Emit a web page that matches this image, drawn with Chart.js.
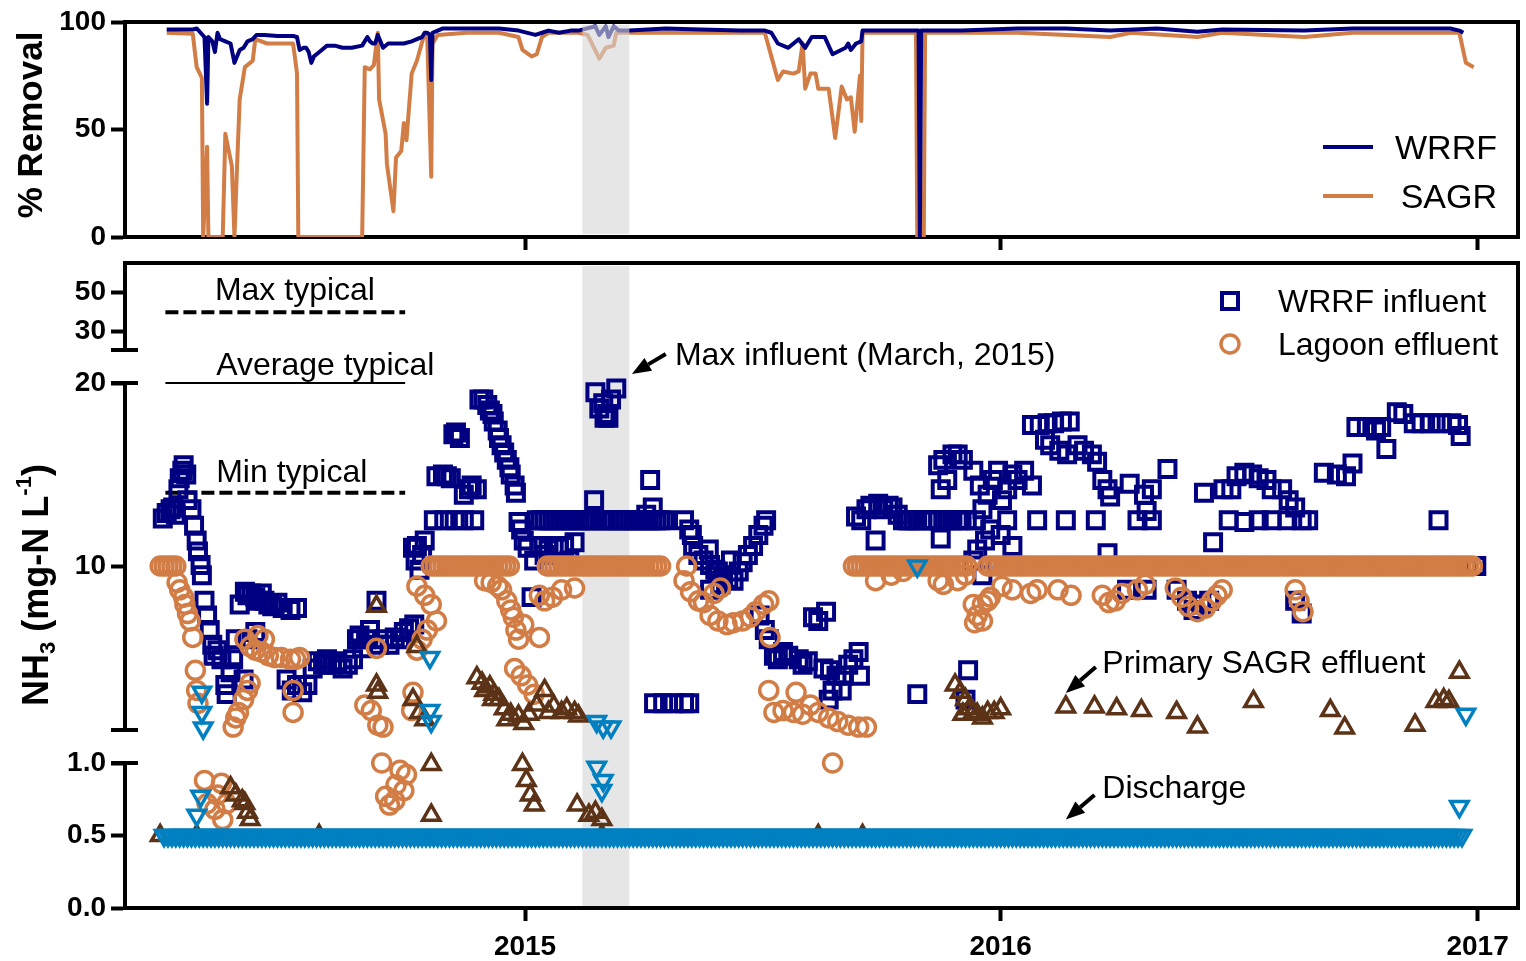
<!DOCTYPE html>
<html>
<head>
<meta charset="utf-8">
<script src="https://cdn.jsdelivr.net/npm/chart.js@4.4.1/dist/chart.umd.min.js"></script>
<style>
html, body { margin: 0; padding: 0; background: #fff; }
#wrap { position: relative; width: 1526px; height: 961px; }
#wrap canvas { position: absolute; left: 0; top: 0; width: 1526px; height: 961px; }
</style>
</head>
<body>
<div id="wrap">
  <canvas id="lowerChart" width="1526" height="961"></canvas>
  <canvas id="middleChart" width="1526" height="961"></canvas>
  <canvas id="upperChart" width="1526" height="961"></canvas>
  <canvas id="removalChart" width="1526" height="961"></canvas>
</div>
<script>
// x values are days counted from 1 Jan 2014
const dayMin = 58, dayMax = 1127;
const yearTickDays = [365, 730, 1096];
const yearTickLabels = ['2015', '2016', '2017'];
const highlightDays = [409, 445];

const removalTicks = [0, 50, 100];
const upperTicks = [30, 50];
const middleTicks = [10, 20];
const lowerTicks = [0, 0.5, 1];

const typicalDays = [89, 273];
const typicalMax = [40, 40];
const typicalAvg = [20, 20];
const typicalMin = [14, 14];

// % removal, [day, percent]
const wrrfRemoval = [[90,96.5],[100,96.5],[110,96.5],[113,97],[116,95],[119,93],[121,62],[122,93],[125,91],[127,86],[129,95],[131,92],[135,91],[139,90],[142,81],[146,87],[149,88],[152,91],[156,92],[159,94],[165,94],[175,93.5],[187,93.5],[190,93],[192,87],[195,88],[197,88],[199,86],[201,81],[203,84],[205,85],[209,87],[213,89],[219,89],[225,88],[232,88],[240,89],[244,93],[246,91],[248,90],[250,90],[252,94],[254,91],[256,88],[260,90],[266,90],[272,90],[278,91],[282,92],[286,93],[288,95],[290,95],[292,94],[293,73],[294,95],[298,96],[302,97],[320,97],[345,97],[360,96],[373,94],[378,95],[383,96],[391,95],[400,96],[406,96],[419,98],[422,94],[427,98],[429,93],[433,98],[437,96],[445,96],[473,97],[500,96.5],[530,96],[549,96],[554,95],[559,90],[567,88],[575,92],[580,88],[585,93],[590,93],[595,93],[601,85],[611,88],[613,90],[615,87],[619,90],[623,91],[624,96],[640,96],[667,96],[668,0],[669,96],[700,96],[743,97],[780,97],[814,96],[850,97],[881,95.5],[900,96.5],[963,96],[1000,97],[1050,97],[1075,97],[1082,96],[1085,95]];
const sagrRemoval = [[90,95],[110,94.5],[113,79],[117,74],[118,0],[121,42],[122,0],[133,0],[135,48],[140,33],[142,0],[144,33],[146,64],[150,79],[156,82],[158,92],[167,90],[187,90],[190,76],[191,0],[240,0],[242,79],[246,78],[249,80],[252,95],[253,64],[258,48],[259,34],[264,12],[266,37],[270,40],[272,53],[274,45],[278,76],[282,82],[288,95],[290,92],[293,28],[294,90],[298,94],[320,95],[345,95],[360,93],[363,87],[370,84],[374,85],[378,93],[383,95],[406,95],[413,94],[422,83],[427,88],[433,89],[435,95],[445,95],[549,95],[554,84],[559,73],[563,77],[571,76],[575,77],[578,90],[580,69],[584,76],[588,76],[590,69],[598,69],[603,46],[608,70],[612,64],[615,65],[618,49],[622,75],[623,54],[624,95],[665,95],[666,0],[671,0],[672,95],[743,95],[814,93],[830,95],[881,93],[900,95],[963,93],[1000,95],[1050,95],[1082,95],[1087,81],[1093,79]];

// NH3 in mg-N/L, [day, value]
const wrrfInfluent = [[87,12.6],[90,12.9],[93,13.1],[95,13.2],[97,12.8],[99,14.2],[100,14.8],[102,15.2],[103,15.5],[105,15.0],[106,13.6],[109,13.1],[111,12.2],[113,11.4],[114,10.8],[116,10.05],[117,9.5],[119,8.1],[121,7.3],[123,6.5],[125,5.7],[126,5.1],[129,5.4],[132,4.9],[135,3.5],[136,3.0],[139,4.2],[141,4.9],[143,6.0],[146,7.9],[149,3.8],[150,8.6],[152,8.4],[152,6.0],[155,8.5],[158,8.3],[158,6.4],[160,8.1],[163,8.5],[165,8.1],[168,7.9],[171,7.8],[175,8.0],[179,7.7],[182,3.8],[185,7.6],[186,3.2],[190,7.7],[190,3.5],[194,3.1],[198,3.5],[202,4.4],[206,4.8],[210,4.6],[213,4.9],[217,4.6],[221,4.8],[225,4.4],[229,4.6],[233,4.9],[236,6.0],[238,6.2],[240,5.5],[243,6.0],[246,6.5],[251,8.1],[253,5.7],[257,6.0],[261,5.7],[265,6.1],[269,6.0],[272,6.4],[276,6.6],[279,11.0],[280,6.8],[281,10.3],[282,11.1],[284,9.8],[286,10.6],[288,11.4],
[295,12.5],[297,14.9],[302,15.0],[303,12.5],[305,14.9],[308,14.8],[310,17.2],[311,12.5],[312,17.3],[315,17.0],[318,13.9],[318,12.5],[322,14.2],[324,14.4],[326,12.5],[328,14.2],[330,19.1],[333,19.1],[336,18.8],[338,18.5],[340,18.3],[341,17.9],[344,17.4],[345,17.0],[347,16.6],[349,16.2],[351,15.8],[353,15.4],[354,15.0],[357,14.4],[358,14.0],[360,12.4],[362,12.0],[364,11.4],[367,11.0],[370,8.3],[372,10.3],[376,11.1],[380,10.6],[383,10.9],[387,11.1],[391,11.0],[395,11.1],[399,10.3],[403,11.3],
[374,12.5],[377,12.5],[380,12.5],[383,12.5],[386,12.5],[389,12.5],[392,12.5],[395,12.5],[398,12.5],[401,12.5],[404,12.5],[407,12.5],[410,12.5],[413,12.5],[416,12.5],[419,12.5],
[424,12.5],[427,12.5],[430,12.5],[433,12.5],[436,12.5],[439,12.5],[442,12.5],[445,12.5],[448,12.5],[451,12.5],[454,12.5],[457,12.5],[460,12.5],[463,12.5],[466,12.5],[469,12.5],[472,12.5],
[418,13.6],[419,19.5],[422,18.6],[425,18.9],[426,18.1],[428,18.3],[429,18.1],[431,19.1],[435,19.7],[458,12.8],[461,14.7],[463,13.2],[464,2.5],[471,2.5],[479,2.5],[487,2.5],[491,2.5],
[487,12.5],[491,12.0],[493,11.7],[494,11.1],[498,10.6],[502,10.3],[506,10.9],[507,10.05],[507,8.7],[511,9.8],[513,9.7],[515,9.0],[517,9.5],[521,9.3],[523,10.3],[525,9.2],[529,9.7],[532,10.2],[536,10.6],[540,11.1],[544,11.7],[545,7.3],[548,12.2],[549,6.5],[550,12.5],[552,6.0],[556,5.1],[559,4.9],[563,5.3],[567,5.1],[575,4.9],[578,4.6],[582,4.8],[586,7.2],[590,7.0],[594,4.4],[596,7.5],[598,2.7],[599,4.3],[601,3.2],[604,4.0],[608,3.2],[609,4.0],[613,4.6],[617,4.9],[621,5.3],[622,4.0],
[619,12.7],[623,12.5],[627,13.1],[630,13.3],[634,11.4],[636,13.4],[640,13.1],[644,13.3],[647,13.2],[651,12.8],[655,12.5],[658,12.5],[660,12.5],[663,12.5],[666,12.5],[666,3.0],[670,12.5],[674,12.5],[678,12.5],[682,12.5],[682,15.5],[684,14.2],[684,11.5],[686,15.8],[686,12.5],[689,14.7],[689,12.5],[693,16.1],[693,12.5],[697,16.1],[697,12.5],[700,12.5],[701,15.8],[703,2.7],[704,12.5],[705,4.3],[709,15.2],[709,10.3],[711,12.5],[712,10.9],[714,14.4],[716,13.1],[716,9.5],[718,11.4],[720,13.9],[722,12.0],[724,14.7],[728,15.2],[728,10],[730,11.7],[731,13.6],[735,14.2],[735,12.5],[739,15.0],[739,11.1],[743,14.7],[748,15.2],[751,10],[754,14.4],[754,17.7],[758,12.5],[760,17.7],[764,16.9],[766,17.8],[768,16.6],[771,17.8],[774,10],[775,16.3],[777,17.9],[780,12.5],[781,16.1],[783,17.9],[789,16.6],[794,16.3],[797,10],[800,16.1],[803,12.5],[804,15.7],[808,14.7],[812,14.2],[812,10.7],[814,13.8],[819,10],[827,8.7],[829,14.5],[835,12.5],[840,13.9],[842,13.0],[842,8.7],[846,12.5],[846,14.2],[858,15.3],[865,8.7],[873,8.1],[878,7.6],[881,10],[884,7.9],[886,14.0],[890,8.1],[893,11.3],[901,14.2],[905,12.5],[907,14.2],[911,14.9],[911,10],[917,15.1],[917,12.4],[923,15.0],[928,14.8],[928,12.5],[934,14.7],[938,12.5],[938,14.2],[946,14.2],[950,12.5],[951,13.6],[956,13.2],[956,8.1],[957,10],[961,12.5],[961,7.4],[966,12.5],[978,15.1],[988,15.0],[995,14.9],[995,10],[1000,15.6],[1003,17.6],[1011,17.6],[1018,17.4],[1022,17.6],[1026,16.4],[1034,18.4],[1039,18.3],[1047,17.8],[1049,10],[1053,17.8],[1060,17.8],[1066,12.5],[1068,17.8],[1076,17.8],[1081,17.7],[1083,17.1],[1087,10],[1095,10]];

const lagoonEffluent = [[85,10],[88,10],[91,10],[94,10],[97,10],[98,9.1],[100,8.7],[103,8.3],[104,7.9],[106,7.4],[108,7.0],[110,6.1],[112,4.3],[113,3.2],[114,2.5],
[119,0.88],[121,0.72],[127,0.68],[129,0.78],[132,0.86],[133,0.61],[136,0.72],
[141,1.2],[143,1.7],[145,2.0],[149,2.7],[152,3.2],[154,3.6],
[150,6.0],[154,5.6],[158,5.4],[160,6.2],[163,5.3],[165,6.0],[168,5.1],[173,5.0],[178,5.0],[185,4.9],[189,4.9],[192,5.0],[187,3.2],[187,2.0],
[242,2.4],[247,2.1],[251,5.5],[252,1.3],[256,1.2],[255,1.0],[258,0.77],[261,0.71],[265,0.74],[266,0.85],[269,0.95],[272,0.81],[274,0.92],
[278,2.1],[279,3.1],[282,8.9],[282,5.4],[286,6.0],[288,8.4],[290,6.5],[293,7.9],[297,7.0],
[293,10],[296,10],[299,10],[302,10],[305,10],[308,10],[311,10],[314,10],[317,10],[320,10],[323,10],[326,10],[329,10],[332,10],[335,10],[338,10],[341,10],[344,10],[347,10],[350,10],[353,10],
[334,9.2],[339,9.1],[344,8.9],[347,8.7],[351,8.1],[354,7.6],[356,7.2],[358,6.5],[360,6.0],[364,6.8],[376,6.1],
[357,4.4],[362,4.0],[367,3.5],[372,3.0],
[376,8.4],[380,8.1],[386,8.3],[393,8.7],[403,8.8],
[382,10],[385,10],[388,10],[391,10],[394,10],[397,10],[400,10],[403,10],[406,10],[409,10],[412,10],[415,10],[418,10],[421,10],[424,10],[427,10],[430,10],[433,10],[436,10],[439,10],[442,10],[445,10],[448,10],[451,10],[454,10],[457,10],[460,10],[463,10],[466,10],[469,10],
[489,10],[487,9.2],[492,8.6],[498,8.1],[502,8.0],[510,8.5],[515,8.8],[507,7.3],[513,7.0],[520,6.8],[525,6.9],[532,7.0],[538,7.2],[542,7.5],[548,7.9],[552,8.1],[553,6.1],
[552,3.2],[556,2.0],[563,2.1],[571,2.0],[573,3.1],[578,1.9],[584,2.4],[590,2.0],[598,1.7],[605,1.5],[613,1.3],[621,1.2],[627,1.2],[601,1.0],
[617,10],[620,10],[623,10],[626,10],[629,10],[632,10],[635,10],[638,10],[641,10],[644,10],[647,10],[650,10],[653,10],[656,10],[659,10],[662,10],[665,10],[668,10],[671,10],[674,10],[677,10],[680,10],[683,10],[686,10],[689,10],[692,10],[695,10],[698,10],[701,10],[704,10],
[634,9.2],[646,9.5],[655,9.7],[682,9.2],[686,9.0],[697,9.2],[703,9.5],[709,7.9],[712,7.3],[716,7.0],[710,6.9],[720,8.1],[722,8.3],[716,7.9],
[720,10],[723,10],[726,10],[729,10],[732,10],[735,10],[738,10],[741,10],[744,10],[747,10],[750,10],[753,10],[756,10],[759,10],[762,10],[765,10],[768,10],[771,10],[774,10],[777,10],[780,10],[783,10],[786,10],[789,10],[792,10],[795,10],[798,10],[801,10],[804,10],[807,10],[810,10],[813,10],[816,10],[819,10],[822,10],[825,10],[828,10],[831,10],[834,10],[837,10],[840,10],[843,10],[846,10],[849,10],[852,10],[855,10],[858,10],[861,10],[864,10],[867,10],[870,10],[873,10],[876,10],[879,10],[882,10],[885,10],[888,10],[891,10],[894,10],[897,10],[900,10],[903,10],[906,10],[909,10],[912,10],[915,10],[918,10],[921,10],[924,10],[927,10],[930,10],[933,10],[936,10],[939,10],[942,10],[945,10],[948,10],[951,10],[954,10],[957,10],[960,10],[963,10],[966,10],[969,10],[972,10],[975,10],[978,10],[981,10],[984,10],[987,10],[990,10],[993,10],[996,10],[999,10],[1002,10],[1005,10],[1008,10],[1011,10],[1014,10],[1017,10],[1020,10],[1023,10],[1026,10],[1029,10],[1032,10],[1035,10],[1038,10],[1041,10],[1044,10],[1047,10],[1050,10],[1053,10],[1056,10],[1059,10],[1062,10],[1065,10],[1068,10],[1071,10],[1074,10],[1077,10],[1080,10],[1083,10],[1086,10],[1089,10],[1092,10],
[731,8.9],[739,8.7],[753,8.5],[758,8.7],[774,8.7],[784,8.4],[808,8.4],[813,8.0],[818,8.1],[823,8.5],[835,8.7],[841,9.0],[864,8.8],[869,8.3],[874,7.8],[881,7.5],[887,7.7],[892,8.1],[896,8.4],[900,8.7],[956,8.7],[959,8.1],[962,7.5]];

const primaryEffluent = [[85,0.5],[113,0.5],[207,0.5],[424,0.5],[590,0.5],[624,0.5],
[139,0.83],[143,0.78],[148,0.74],[150,0.72],[152,0.66],[154,0.61],
[251,7.8],[251,3.5],[252,3.1],[282,5.6],[279,2.7],[284,2.0],[288,1.6],[293,0.99],[293,0.64],
[328,3.9],[332,3.6],[334,3.2],[338,3.4],[340,2.7],[341,3.0],[345,2.7],[349,2.2],[351,1.6],[354,1.9],[360,1.8],[364,1.4],[368,1.9],[374,2.4],[380,3.2],[383,2.0],[387,2.35],[393,2.0],[397,2.2],[403,2.0],[406,1.8],
[363,0.99],[366,0.88],[369,0.78],[372,0.71],[405,0.71],[414,0.64],[419,0.66],[424,0.61],
[695,3.5],[699,3.1],[701,1.9],[703,2.7],[706,2.2],[709,2.0],[712,1.9],[716,1.7],[720,2.0],[725,2.0],[730,2.2],
[780,2.3],[802,2.3],[819,2.2],[838,2.1],[865,2.0],[881,1.2],[924,2.6],[983,2.1],[994,1.15],[1048,1.3],[1064,2.6],[1070,2.7],[1074,2.6],[1082,4.2]];

const dischargeEffluent = [[88,0.5],[91,0.5],[94,0.5],[97,0.5],[100,0.5],[103,0.5],[106,0.5],[109,0.5],[112,0.5],[115,0.5],[118,0.5],[121,0.5],[124,0.5],[127,0.5],[130,0.5],[133,0.5],[136,0.5],[139,0.5],[142,0.5],[145,0.5],[148,0.5],[151,0.5],[154,0.5],[157,0.5],[160,0.5],[163,0.5],[166,0.5],[169,0.5],[172,0.5],[175,0.5],[178,0.5],[181,0.5],[184,0.5],[187,0.5],[190,0.5],[193,0.5],[196,0.5],[199,0.5],[202,0.5],[205,0.5],[208,0.5],[211,0.5],[214,0.5],[217,0.5],[220,0.5],[223,0.5],[226,0.5],[229,0.5],[232,0.5],[235,0.5],[238,0.5],[241,0.5],[244,0.5],[247,0.5],[250,0.5],[253,0.5],[256,0.5],[259,0.5],[262,0.5],[265,0.5],[268,0.5],[271,0.5],[274,0.5],[277,0.5],[280,0.5],[283,0.5],[286,0.5],[289,0.5],[292,0.5],[295,0.5],[298,0.5],[301,0.5],[304,0.5],[307,0.5],[310,0.5],[313,0.5],[316,0.5],[319,0.5],[322,0.5],[325,0.5],[328,0.5],[331,0.5],[334,0.5],[337,0.5],[340,0.5],[343,0.5],[346,0.5],[349,0.5],[352,0.5],[355,0.5],[358,0.5],[361,0.5],[364,0.5],[367,0.5],[370,0.5],[373,0.5],[376,0.5],[379,0.5],[382,0.5],[385,0.5],[388,0.5],[391,0.5],[394,0.5],[397,0.5],[400,0.5],[403,0.5],[406,0.5],[409,0.5],[412,0.5],[415,0.5],[418,0.5],[421,0.5],[424,0.5],[427,0.5],[430,0.5],[433,0.5],[436,0.5],[439,0.5],[442,0.5],[445,0.5],[448,0.5],[451,0.5],[454,0.5],[457,0.5],[460,0.5],[463,0.5],[466,0.5],[469,0.5],[472,0.5],[475,0.5],[478,0.5],[481,0.5],[484,0.5],[487,0.5],[490,0.5],[493,0.5],[496,0.5],[499,0.5],[502,0.5],[505,0.5],[508,0.5],[511,0.5],[514,0.5],[517,0.5],[520,0.5],[523,0.5],[526,0.5],[529,0.5],[532,0.5],[535,0.5],[538,0.5],[541,0.5],[544,0.5],[547,0.5],[550,0.5],[553,0.5],[556,0.5],[559,0.5],[562,0.5],[565,0.5],[568,0.5],[571,0.5],[574,0.5],[577,0.5],[580,0.5],[583,0.5],[586,0.5],[589,0.5],[592,0.5],[595,0.5],[598,0.5],[601,0.5],[604,0.5],[607,0.5],[610,0.5],[613,0.5],[616,0.5],[619,0.5],[622,0.5],[625,0.5],[628,0.5],[631,0.5],[634,0.5],[637,0.5],[640,0.5],[643,0.5],[646,0.5],[649,0.5],[652,0.5],[655,0.5],[658,0.5],[661,0.5],[664,0.5],[667,0.5],[670,0.5],[673,0.5],[676,0.5],[679,0.5],[682,0.5],[685,0.5],[688,0.5],[691,0.5],[694,0.5],[697,0.5],[700,0.5],[703,0.5],[706,0.5],[709,0.5],[712,0.5],[715,0.5],[718,0.5],[721,0.5],[724,0.5],[727,0.5],[730,0.5],[733,0.5],[736,0.5],[739,0.5],[742,0.5],[745,0.5],[748,0.5],[751,0.5],[754,0.5],[757,0.5],[760,0.5],[763,0.5],[766,0.5],[769,0.5],[772,0.5],[775,0.5],[778,0.5],[781,0.5],[784,0.5],[787,0.5],[790,0.5],[793,0.5],[796,0.5],[799,0.5],[802,0.5],[805,0.5],[808,0.5],[811,0.5],[814,0.5],[817,0.5],[820,0.5],[823,0.5],[826,0.5],[829,0.5],[832,0.5],[835,0.5],[838,0.5],[841,0.5],[844,0.5],[847,0.5],[850,0.5],[853,0.5],[856,0.5],[859,0.5],[862,0.5],[865,0.5],[868,0.5],[871,0.5],[874,0.5],[877,0.5],[880,0.5],[883,0.5],[886,0.5],[889,0.5],[892,0.5],[895,0.5],[898,0.5],[901,0.5],[904,0.5],[907,0.5],[910,0.5],[913,0.5],[916,0.5],[919,0.5],[922,0.5],[925,0.5],[928,0.5],[931,0.5],[934,0.5],[937,0.5],[940,0.5],[943,0.5],[946,0.5],[949,0.5],[952,0.5],[955,0.5],[958,0.5],[961,0.5],[964,0.5],[967,0.5],[970,0.5],[973,0.5],[976,0.5],[979,0.5],[982,0.5],[985,0.5],[988,0.5],[991,0.5],[994,0.5],[997,0.5],[1000,0.5],[1003,0.5],[1006,0.5],[1009,0.5],[1012,0.5],[1015,0.5],[1018,0.5],[1021,0.5],[1024,0.5],[1027,0.5],[1030,0.5],[1033,0.5],[1036,0.5],[1039,0.5],[1042,0.5],[1045,0.5],[1048,0.5],[1051,0.5],[1054,0.5],[1057,0.5],[1060,0.5],[1063,0.5],[1066,0.5],[1069,0.5],[1072,0.5],[1075,0.5],[1078,0.5],[1081,0.5],[1084,0.5],
[113,0.64],[116,0.77],[117,3.1],[117,2.0],[118,1.15],[292,5.0],[292,2.1],[293,1.5],[420,1.5],[425,1.2],[431,1.2],[420,0.97],[425,0.88],[424,0.81],[666,10],[1082,0.70],[1087,1.9]];

const FONT = "'Liberation Sans', Arial, Helvetica, sans-serif";
const NAVY = '#000080', ORANGE = '#D27D46', BROWN = '#5C3317', BLUE = '#0080C0';
Chart.defaults.font.family = FONT;
Chart.defaults.color = '#000';

// plot areas in page pixels
const AREA = { left: 125, right: 1518, removal: [22, 237], upper: [263, 350], middle: [383, 730], lower: [763, 908] };

const series = [
    { label: 'Discharge', data: dischargeEffluent, style: 'triangle', rot: 180, color: BLUE, r: 10, w: 3.5 },
    { label: 'Primary SAGR effluent', data: primaryEffluent, style: 'triangle', rot: 0, color: BROWN, r: 10, w: 3.5 },
    { label: 'Lagoon effluent', data: lagoonEffluent, style: 'circle', rot: 0, color: ORANGE, r: 9, w: 3.5 },
    { label: 'WRRF influent', data: wrrfInfluent, style: 'rect', rot: 0, color: NAVY, r: 11.3, w: 4 }
];

const notes = {
    upper: [{ text: 'Max typical', day: 127, value: 46.3 }],
    middle: [
        { text: 'Average typical', day: 128, value: 20.44 },
        { text: 'Min typical', day: 128, value: 14.59 },
        { text: 'Max influent (March, 2015)', day: 480, value: 20.98, from: [473, 21.58], to: [447, 20.49] },
        { text: 'Primary SAGR effluent', day: 808, value: 4.15, from: [803, 4.48], to: [780, 3.06] }
    ],
    lower: [{ text: 'Discharge', day: 808, value: 0.76, from: [802, 0.78], to: [780, 0.61] }]
};

function segmentDatasets(lo, hi) {
    return series.map(s => ({
        label: s.label,
        data: s.data.filter(p => p[1] > lo && p[1] <= hi).map(p => ({ x: p[0], y: p[1] })),
        pointStyle: s.style,
        pointRotation: s.rot,
        pointRadius: s.r,
        borderColor: s.color,
        pointBorderColor: s.color,
        backgroundColor: 'rgba(0,0,0,0)',
        pointBackgroundColor: 'rgba(0,0,0,0)',
        borderWidth: s.w,
        pointBorderWidth: s.w,
        showLine: false,
        clip: 14
    }));
}

function typicalLine(levels, dash, width) {
    return {
        label: 'typical',
        data: typicalDays.map((d, i) => ({ x: d, y: levels[i] })),
        showLine: true, pointRadius: 0, borderColor: '#000', borderWidth: width,
        borderDash: dash, borderCapStyle: 'butt', clip: 14
    };
}

function xScale(height, labels) {
    return {
        type: 'linear', min: dayMin, max: dayMax, display: height > 0,
        afterBuildTicks: s => { s.ticks = yearTickDays.map(v => ({ value: v })); },
        afterFit: s => { s.height = height; s.paddingLeft = 0; s.paddingRight = 0; },
        grid: { drawOnChartArea: false, drawTicks: true, tickLength: 13, tickWidth: 4, tickColor: '#000' },
        border: { display: true, color: '#000', width: 4 },
        ticks: {
            display: labels, autoSkip: false, maxRotation: 0, padding: 9, color: '#000',
            font: { size: 28, weight: 'bold' },
            callback: v => yearTickLabels[yearTickDays.indexOf(v)]
        }
    };
}

function yScale(min, max, ticks, fmt) {
    return {
        type: 'linear', min: min, max: max,
        afterBuildTicks: s => { s.ticks = ticks.map(v => ({ value: v })); },
        afterFit: s => { s.width = AREA.left; },
        grid: { drawOnChartArea: false, drawTicks: true, tickLength: 14, tickWidth: 4, tickColor: '#000' },
        border: { display: true, color: '#000', width: 4 },
        ticks: { padding: 5, color: '#000', font: { size: 28, weight: 'bold' }, callback: fmt || (v => String(v)) }
    };
}

function strokeLine(ctx, x1, y1, x2, y2, width, color, dash) {
    ctx.save();
    ctx.beginPath();
    ctx.lineWidth = width;
    ctx.strokeStyle = color || '#000';
    ctx.lineCap = 'butt';
    if (dash) ctx.setLineDash(dash);
    ctx.moveTo(x1, y1);
    ctx.lineTo(x2, y2);
    ctx.stroke();
    ctx.restore();
}

function drawArrow(ctx, x1, y1, x2, y2) {
    const a = Math.atan2(y2 - y1, x2 - x1), head = 19, half = 7.5;
    const bx = x2 - head * Math.cos(a), by = y2 - head * Math.sin(a);
    strokeLine(ctx, x1, y1, bx, by, 4, '#000');
    ctx.save();
    ctx.fillStyle = '#000';
    ctx.beginPath();
    ctx.moveTo(x2, y2);
    ctx.lineTo(bx + half * Math.sin(a), by - half * Math.cos(a));
    ctx.lineTo(bx - half * Math.sin(a), by + half * Math.cos(a));
    ctx.closePath();
    ctx.fill();
    ctx.restore();
}

function drawNotes(chart, list) {
    const { ctx, scales } = chart;
    ctx.save();
    ctx.font = '32px ' + FONT;
    ctx.fillStyle = '#000';
    ctx.textAlign = 'left';
    ctx.textBaseline = 'alphabetic';
    list.forEach(n => {
        ctx.fillText(n.text, scales.x.getPixelForValue(n.day), scales.y.getPixelForValue(n.value));
        if (n.from) {
            drawArrow(ctx,
                scales.x.getPixelForValue(n.from[0]), scales.y.getPixelForValue(n.from[1]),
                scales.x.getPixelForValue(n.to[0]), scales.y.getPixelForValue(n.to[1]));
        }
    });
    ctx.restore();
}

function axisCap(ctx, y) {
    strokeLine(ctx, AREA.left - 14, y, AREA.left + 13, y, 4, '#000');
}

const baseOptions = {
    responsive: false,
    animation: false,
    events: [],
    plugins: { legend: { display: false }, tooltip: { enabled: false } }
};

function makeChart(id, datasets, padding, xs, ys, plugin) {
    return new Chart(document.getElementById(id), {
        type: 'scatter',
        data: { datasets: datasets },
        options: Object.assign({}, baseOptions, {
            layout: { autoPadding: false, padding: padding },
            scales: { x: xs, y: ys }
        }),
        plugins: [plugin]
    });
}

// ===== % Removal =====
makeChart('removalChart', [
    { label: 'WRRF', data: wrrfRemoval.map(p => ({ x: p[0], y: p[1] })), showLine: true, pointRadius: 0,
      borderColor: NAVY, borderWidth: 4, borderJoinStyle: 'round' },
    { label: 'SAGR', data: sagrRemoval.map(p => ({ x: p[0], y: p[1] })), showLine: true, pointRadius: 0,
      borderColor: ORANGE, borderWidth: 4, borderJoinStyle: 'round' }
], { left: 0, right: 1526 - AREA.right, top: AREA.removal[0], bottom: 961 - AREA.removal[1] - 16 },
xScale(16, false), yScale(0, 100, removalTicks), {
    id: 'removalFrame',
    afterDatasetsDraw(chart) {
        const { ctx, scales, chartArea } = chart;
        const x1 = scales.x.getPixelForValue(highlightDays[0]), x2 = scales.x.getPixelForValue(highlightDays[1]);
        ctx.save();
        ctx.fillStyle = 'rgba(213,213,213,0.6)';
        ctx.fillRect(x1, chartArea.top + 3, x2 - x1, chartArea.bottom - chartArea.top - 6);
        ctx.restore();
    },
    afterDraw(chart) {
        const { ctx, chartArea } = chart;
        strokeLine(ctx, chartArea.left - 2, chartArea.top, chartArea.right + 2, chartArea.top, 4);
        strokeLine(ctx, chartArea.right, chartArea.top, chartArea.right, chartArea.bottom + 2, 4);
        chart.data.datasets.forEach((ds, i) => {
            const y = 147 + i * 49;
            strokeLine(ctx, 1323, y, 1373, y, 4, ds.borderColor);
            ctx.save();
            ctx.font = '34px ' + FONT;
            ctx.fillStyle = '#000';
            ctx.textAlign = 'right';
            ctx.fillText(ds.label, 1497, y + 12);
            ctx.restore();
        });
        ctx.save();
        ctx.translate(42, 125);
        ctx.rotate(-Math.PI / 2);
        ctx.font = 'bold 35px ' + FONT;
        ctx.fillStyle = '#000';
        ctx.textAlign = 'center';
        ctx.fillText('% Removal', 0, 0);
        ctx.restore();
    }
});

// ===== NH3, lower segment 0 - 1 =====
makeChart('lowerChart', segmentDatasets(-Infinity, 1),
    { left: 0, right: 1526 - AREA.right, top: AREA.lower[0], bottom: 961 - AREA.lower[1] - 53 },
    xScale(53, true), yScale(0, 1, lowerTicks, v => v.toFixed(1)), {
    id: 'lowerFrame',
    beforeDatasetsDraw(chart) {
        const { ctx, scales } = chart;
        const x1 = scales.x.getPixelForValue(highlightDays[0]), x2 = scales.x.getPixelForValue(highlightDays[1]);
        ctx.save();
        ctx.fillStyle = '#E6E6E6';
        ctx.fillRect(x1, AREA.upper[0] + 3, x2 - x1, AREA.lower[1] - AREA.upper[0] - 5);
        ctx.restore();
    },
    afterDraw(chart) {
        const { ctx, chartArea } = chart;
        strokeLine(ctx, chartArea.right, AREA.upper[0] - 2, chartArea.right, chartArea.bottom + 2, 4);
        axisCap(ctx, chartArea.top);
        drawNotes(chart, notes.lower);
        // NH3 (mg-N L-1) axis title with sub/superscript
        const big = 'bold 36px ' + FONT, small = 'bold 22px ' + FONT;
        const parts = [['NH', big, 0], ['3', small, 7], [' (mg-N L', big, 0], ['-1', small, -17], [')', big, 0]];
        ctx.save();
        ctx.translate(48, 585);
        ctx.rotate(-Math.PI / 2);
        ctx.fillStyle = '#000';
        let total = 0;
        parts.forEach(p => { ctx.font = p[1]; total += ctx.measureText(p[0]).width; });
        let x = -total / 2;
        parts.forEach(p => {
            ctx.font = p[1];
            ctx.fillText(p[0], x, p[2]);
            x += ctx.measureText(p[0]).width;
        });
        ctx.restore();
    }
});

// ===== NH3, middle segment 1 - 20 =====
makeChart('middleChart', segmentDatasets(1, 20).concat([typicalLine(typicalAvg, [], 2), typicalLine(typicalMin, [13, 5], 4)]),
    { left: 0, right: 1526 - AREA.right, top: AREA.middle[0], bottom: 961 - AREA.middle[1] },
    xScale(0, false), yScale(1.04, 20, middleTicks), {
    id: 'middleFrame',
    afterDraw(chart) {
        const { ctx, chartArea } = chart;
        axisCap(ctx, chartArea.top);
        axisCap(ctx, chartArea.bottom);
        drawNotes(chart, notes.middle);
    }
});

// ===== NH3, upper segment 20 - 65 =====
makeChart('upperChart', segmentDatasets(20, Infinity).concat([typicalLine(typicalMax, [13, 5], 4)]),
    { left: 0, right: 1526 - AREA.right, top: AREA.upper[0], bottom: 961 - AREA.upper[1] },
    xScale(0, false), yScale(20.6, 65.2, upperTicks), {
    id: 'upperFrame',
    afterDraw(chart) {
        const { ctx, chartArea } = chart;
        strokeLine(ctx, chartArea.left - 2, chartArea.top, chartArea.right + 2, chartArea.top, 4);
        axisCap(ctx, chartArea.bottom);
        drawNotes(chart, notes.upper);
        // legend for the two main series
        const rows = [series[3], series[2]];
        rows.forEach((s, i) => {
            const cy = 301 + i * 43;
            ctx.save();
            ctx.strokeStyle = s.color;
            ctx.lineWidth = s.w;
            ctx.beginPath();
            if (s.style === 'rect') {
                const h = Math.SQRT1_2 * s.r;
                ctx.rect(1230 - h, cy - h, 2 * h, 2 * h);
            } else {
                ctx.arc(1230, cy, s.r, 0, Math.PI * 2);
            }
            ctx.stroke();
            ctx.font = '32px ' + FONT;
            ctx.fillStyle = '#000';
            ctx.textAlign = 'left';
            ctx.fillText(s.label, 1278, cy + 11);
            ctx.restore();
        });
    }
});
</script>
</body>
</html>
